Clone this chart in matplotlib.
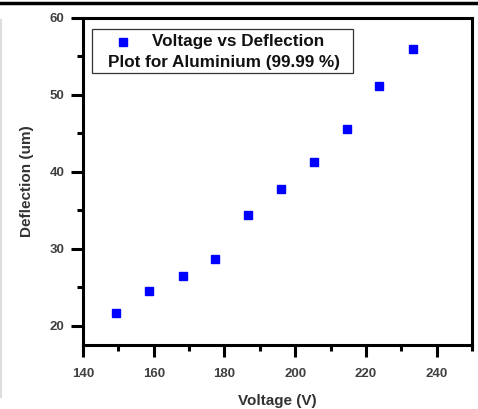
import matplotlib
matplotlib.use("Agg")
import matplotlib.pyplot as plt
from matplotlib.lines import Line2D
from matplotlib.patches import Rectangle
from matplotlib.ticker import MultipleLocator

plt.rcParams["font.family"] = ["Liberation Sans", "DejaVu Sans"]

# data
voltage = [149.3, 158.8, 168.2, 177.3, 186.6, 196.0, 205.4, 214.8, 223.8, 233.2]
deflection = [21.65, 24.55, 26.5, 28.65, 34.4, 37.7, 41.25, 45.5, 51.05, 55.9]

x_ticks = [140, 160, 180, 200, 220, 240]
y_ticks = [20, 30, 40, 50, 60]
legend_lines = ["Voltage vs Deflection", "Plot for Aluminium (99.99 %)"]

fig = plt.figure(figsize=(4.78, 4.09), dpi=100)
ax = fig.add_axes([0.1736, 0.1565, 0.8138, 0.8007])

ax.plot(voltage, deflection, ls="none", marker="s", ms=6, color="#0000ff", mec="#0000ff")

ax.set_xlim(140, 250)
ax.set_ylim(17.5, 60)
ax.set_xticks(x_ticks)
ax.set_yticks(y_ticks)
ax.xaxis.set_minor_locator(MultipleLocator(10))
ax.yaxis.set_minor_locator(MultipleLocator(5))

for s in ax.spines.values():
    s.set_linewidth(2.2)
    s.set_color("black")
ax.tick_params(which="major", direction="out", length=8.5, width=2.2, color="black",
               labelsize=9.5, labelcolor="#404040")
ax.tick_params(which="minor", direction="out", length=4.5, width=2.2, color="black")
ax.tick_params(axis="x", which="major", pad=8)
ax.tick_params(axis="y", which="major", pad=5)
for lbl in ax.get_xticklabels() + ax.get_yticklabels():
    lbl.set_fontweight("bold")

# reference crops this label at the bottom edge; keep it just inside
ax.set_xlabel("Voltage (V)", fontsize=11, fontweight="bold", color="#333333", labelpad=10.5)
ax.set_ylabel("Deflection (um)", fontsize=11, fontweight="bold", color="#333333", labelpad=11)

# hand-drawn legend box (two lines, marker only on first)
ax.add_patch(Rectangle((0.023, 0.831), 0.671, 0.135, transform=ax.transAxes,
                       fill=False, ec="#333333", lw=0.9, zorder=5))
ax.plot([0.103], [0.926], transform=ax.transAxes, ls="none", marker="s", ms=6,
        color="#0000ff", zorder=6)
ax.text(0.399, 0.926, legend_lines[0], transform=ax.transAxes, ha="center", va="center",
        fontsize=12.3, fontweight="bold", color="#111111", zorder=6)
ax.text(0.362, 0.862, legend_lines[1], transform=ax.transAxes, ha="center", va="center",
        fontsize=12.3, fontweight="bold", color="#111111", zorder=6)

# screenshot border bits
fig.add_artist(Line2D([0, 1], [0.993, 0.993], transform=fig.transFigure, color="black", lw=2.5))
fig.add_artist(Line2D([0.003, 0.003], [0.03, 0.95], transform=fig.transFigure, color="#dddddd", lw=1.5))

fig.savefig("out.png", dpi=100)
